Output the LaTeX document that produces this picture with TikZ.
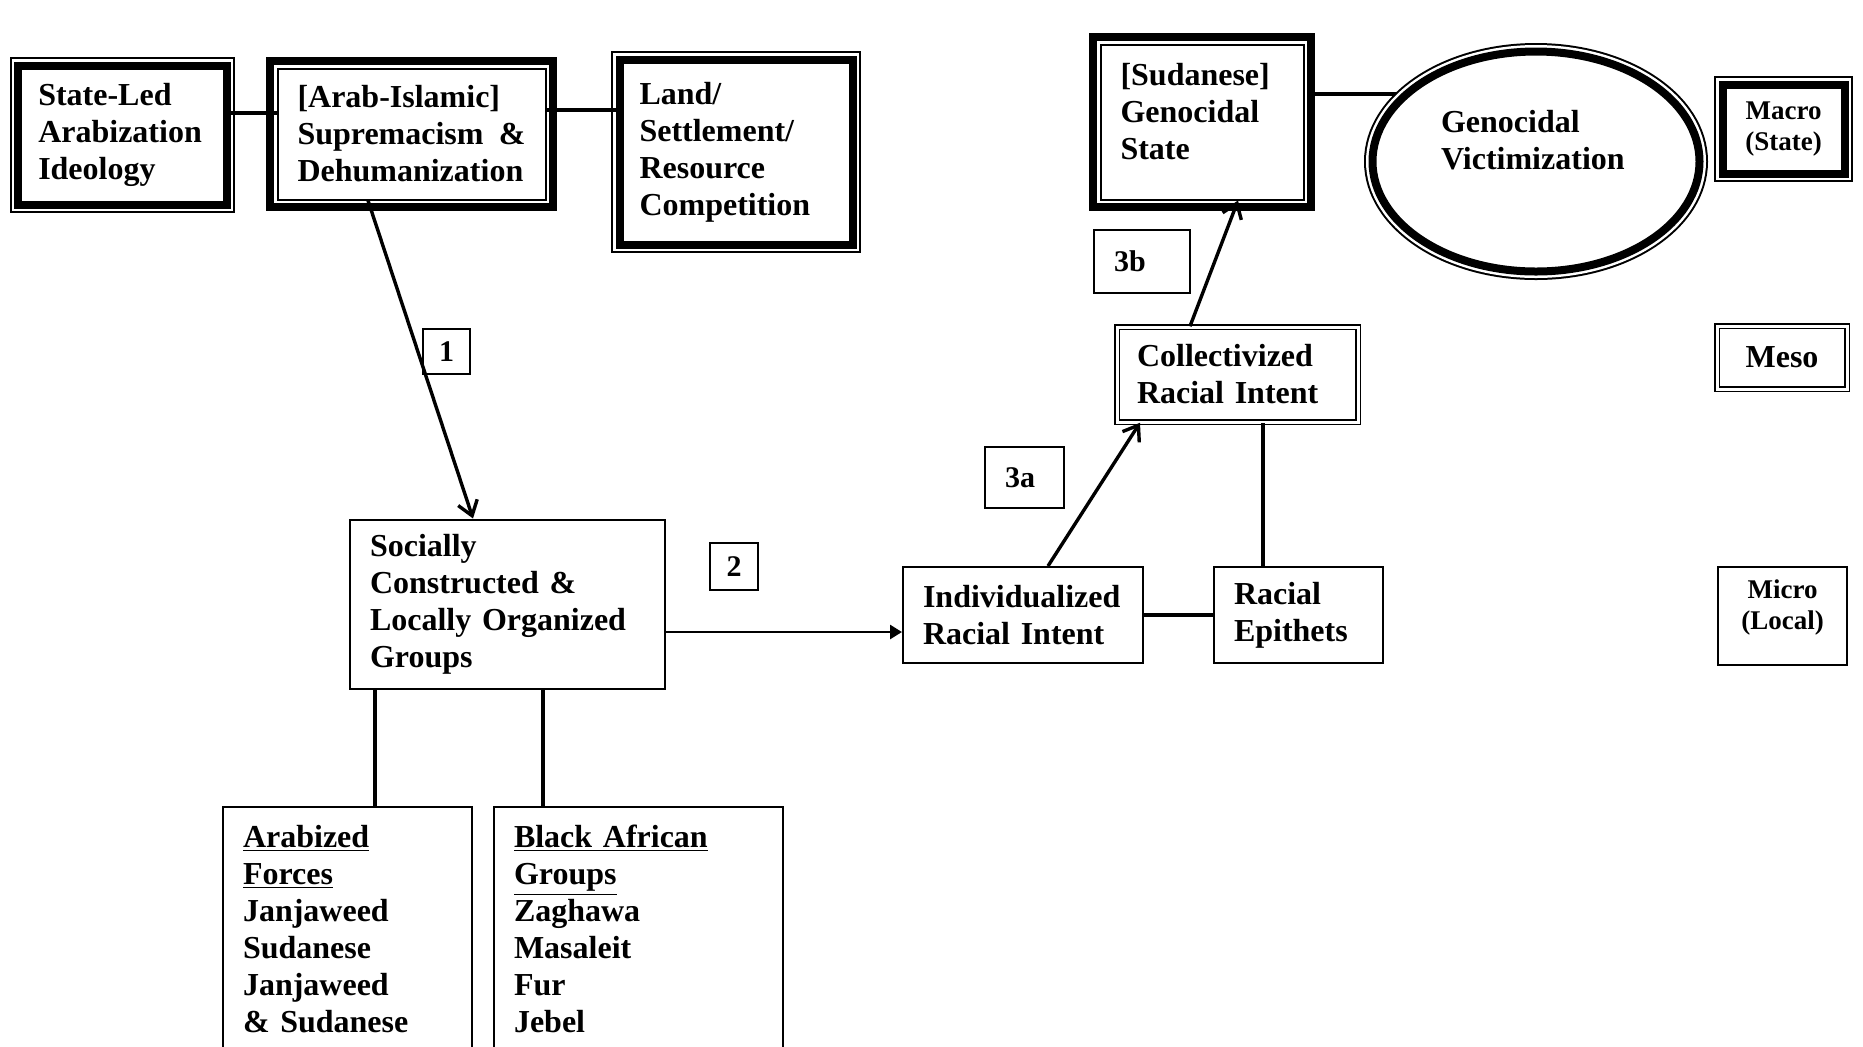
\documentclass[tikz,border=0pt]{standalone}
\usepackage{fontspec}
\setmainfont{Liberation Serif}
\usepackage{tikz}
\usetikzlibrary{shapes.geometric, arrows.meta, positioning, backgrounds}

\begin{document}
\begin{tikzpicture}[
    x=0.5pt, y=-0.5pt,
    every node/.style={font=\fontsize{16pt}{18.5pt}\selectfont\bfseries, inner xsep=10pt, inner ysep=3pt},
    box/.style={rectangle, draw, line width=1pt, fill=white, align=left},
    thinthick/.style={draw, fill=white, line width=4pt, align=left,
                      preaction={draw, line width=1pt, double=white, double distance=6.5pt}},
    thickthin/.style={draw, fill=white, line width=1pt, align=left,
                      preaction={draw, line width=4pt, double=white, double distance=3.5pt}},
    twoline/.style={rectangle, draw, double, line width=0.75pt, double distance=1.5pt, align=left},
    tag/.style={rectangle, draw, line width=0.7pt, font=\fontsize{15pt}{17pt}\selectfont\bfseries},
    small/.style={font=\fontsize{13.5pt}{15.5pt}\selectfont\bfseries, align=center, inner xsep=2pt},
    link/.style={line width=1.6pt},
    arrow/.style={-{Straight Barb[length=7pt, width=10pt]}, line width=1.7pt},
    arrowtwo/.style={-{Triangle[length=6pt, width=7pt]}, line width=1.4pt}
]
    \useasboundingbox (0,0) rectangle (1863,1046);

    \node[thinthick, minimum width=104.25pt, minimum height=69.5pt, text width=84pt]
        (ideology) at (122.25,135) {State-Led\\Arabization\\Ideology};
    \node[thickthin, minimum width=134pt, minimum height=65.5pt, text width=114pt]
        (supremacy) at (411.5,134) {[Arab-Islamic]\\Supremacism\hspace{0pt plus 1fill}\&\\Dehumanization};
    \node[thinthick, minimum width=116.5pt, minimum height=92.5pt, text width=96.5pt]
        (land) at (736,152) {Land/\\Settlement/\\Resource\\Competition};
    \node[thickthin, minimum width=101.5pt, minimum height=77.5pt, text width=81.5pt, text depth=48pt]
        (genstate) at (1202,122) {[Sudanese]\\Genocidal\\State};
    \node[thinthick, ellipse, minimum width=163.5pt, minimum height=110pt, text width=95pt, text depth=40.5pt]
        (victim) at (1536,161.5) {Genocidal\\Victimization};
    \node[thinthick, small, minimum width=61pt, minimum height=44.5pt]
        (macro) at (1783.5,129) {Macro\\(State)};

    \node[tag, minimum width=48pt, minimum height=31.5pt, text width=28pt, align=left]
        (tagb) at (1142,261.5) {3b};
    \node[twoline, minimum width=120.5pt, minimum height=47.5pt, text width=100.5pt]
        (collect) at (1237.5,374.5) {Collectivized\\Racial Intent};
    \node[twoline, minimum width=65pt, minimum height=31.5pt, align=center, inner xsep=2pt]
        (meso) at (1782,357.5) {Meso};
    \node[tag, minimum width=39.5pt, minimum height=30.5pt, text width=19.5pt, align=left]
        (taga) at (1024.5,477.5) {3a};
    \node[tag, inner sep=2pt, minimum width=23.5pt, minimum height=22.5pt]
        (tagone) at (446.5,351.5) {1};
    \node[tag, inner sep=2pt, minimum width=24pt, minimum height=23.5pt]
        (tagtwo) at (734,566.5) {2};

    \node[box, minimum width=157.5pt, minimum height=84.5pt, text width=137.5pt]
        (groups) at (507.5,604) {Socially\\Constructed \&\\Locally Organized\\Groups};
    \node[box, minimum width=120pt, minimum height=48pt, text width=100pt]
        (indiv) at (1023,615) {Individualized\\Racial Intent};
    \node[box, minimum width=84.5pt, minimum height=48pt, text width=64.5pt, right=34.5pt of indiv]
        (epithets) {Racial\\Epithets};
    \node[box, small, minimum width=64.5pt, minimum height=49pt, text depth=11pt]
        (micro) at (1782.5,616) {Micro\\(Local)};
    \node[box, minimum width=124.5pt, minimum height=122pt, text width=104.5pt]
        (arabized) at (347.5,929) {\underline{Arabized}\\\underline{Forces}\\Janjaweed\\Sudanese\\Janjaweed\\\& Sudanese};
    \node[box, minimum width=144.5pt, minimum height=122pt, text width=124.5pt]
        (african) at (638.5,929) {\underline{Black African}\\\underline{Groups}\\Zaghawa\\Masaleit\\Fur\\Jebel};

    \draw[link] ([yshift=11pt]ideology.east) -- ([yshift=11pt]ideology.east -| supremacy.west);
    \draw[link] ([yshift=12pt]supremacy.east) -- ([yshift=12pt]supremacy.east -| land.west);
    \begin{scope}[on background layer]
        \draw[link] ([yshift=14pt]genstate.east) -- ([yshift=14pt]genstate.east -| victim.center);
    \end{scope}
    \draw[arrow] ([xshift=-21.75pt]supremacy.south) -- ([xshift=-17.25pt]groups.north);
    \draw[arrowtwo] ([yshift=-14pt]groups.east) -- ([yshift=-14pt]groups.east -| indiv.west);
    \draw[arrow] ([xshift=12.5pt]indiv.north) -- ([xshift=-48.75pt]collect.south);
    \draw[arrow] ([xshift=-23.75pt]collect.north) -- ([xshift=18pt]genstate.south);
    \draw[link] (indiv.east) -- (epithets.west);
    \draw[link] ([xshift=-17.75pt]epithets.north) -- ([xshift=-17.75pt]epithets.north |- collect.south);
    \draw[link] ([xshift=-66.25pt]groups.south) -- ([xshift=-66.25pt]groups.south |- arabized.north);
    \draw[link] ([xshift=17.75pt]groups.south) -- ([xshift=17.75pt]groups.south |- african.north);
\end{tikzpicture}
\end{document}
